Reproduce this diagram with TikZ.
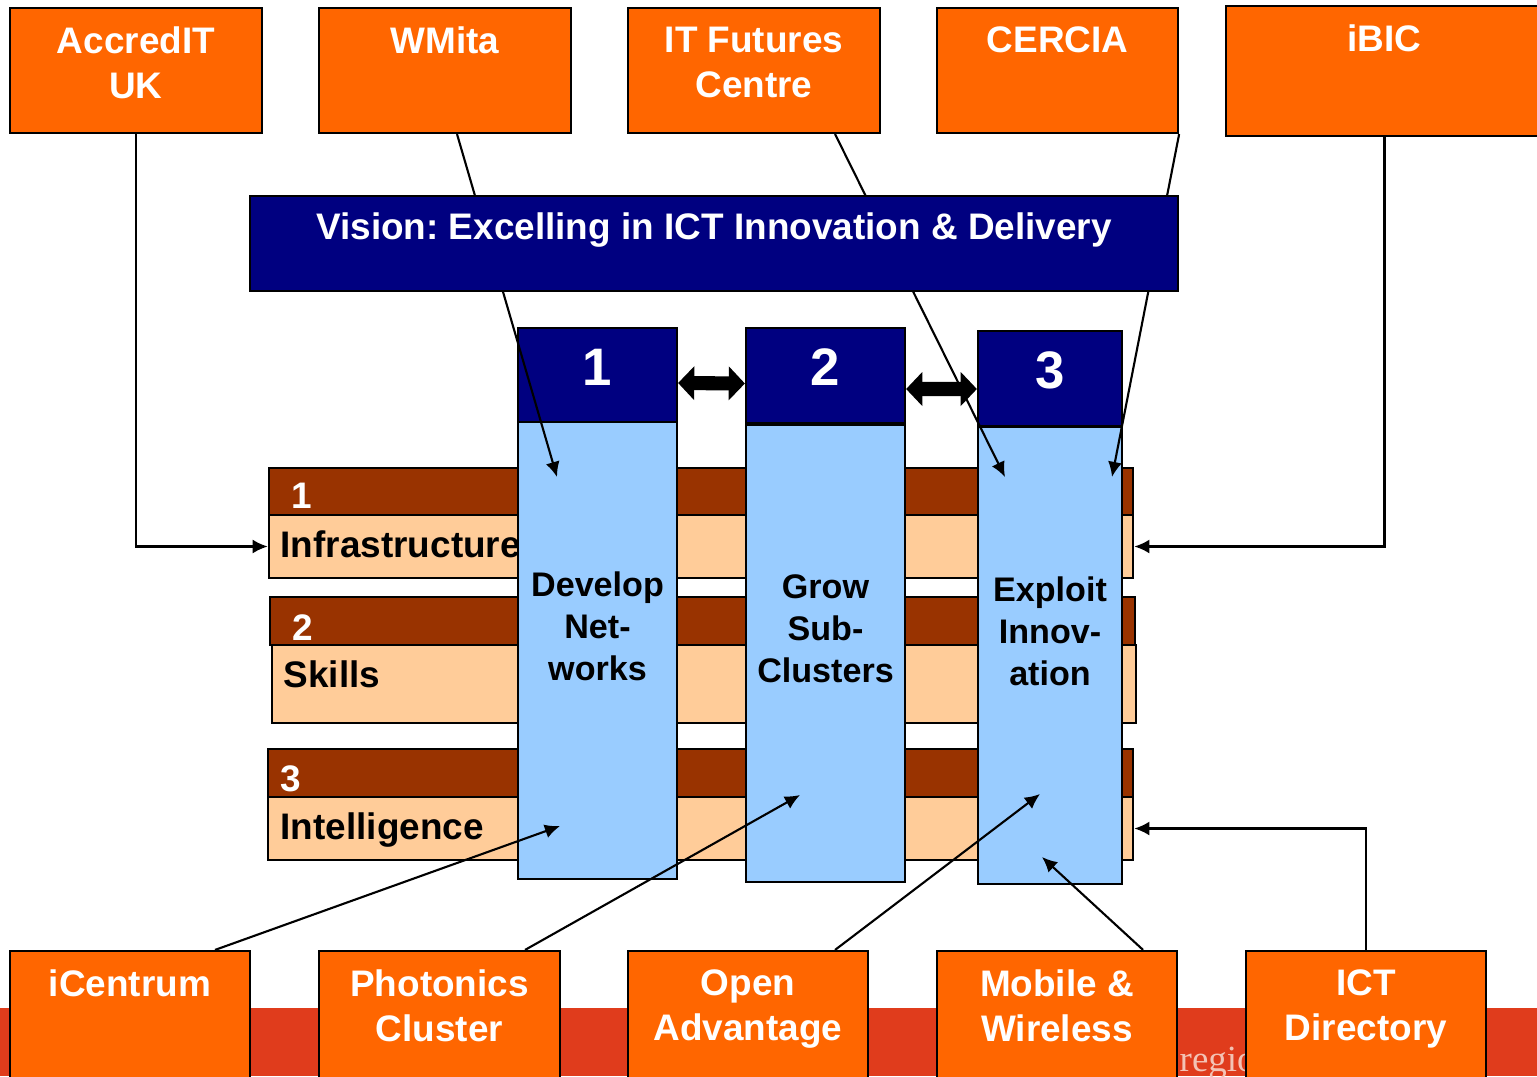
\documentclass[tikz,border=0pt]{standalone}
\usepackage{fontspec}
\setmainfont{Liberation Sans}
\newfontfamily\logofont{Liberation Serif}
\usetikzlibrary{arrows.meta}

\definecolor{orgorange}{HTML}{FF6600}
\definecolor{visnavy}{HTML}{000080}
\definecolor{colblue}{HTML}{99CCFF}
\definecolor{rowbrown}{HTML}{993300}
\definecolor{rowpeach}{HTML}{FFCC99}
\definecolor{bandred}{HTML}{E03C1C}
\definecolor{logopink}{HTML}{F3C3B5}

\begin{document}
\frenchspacing
\begin{tikzpicture}[x=0.01cm,y=-0.01cm]
        \tikzstyle{every node}=[font=\bfseries\fontsize{10.5}{12.9}\selectfont]
        \tikzstyle{box}=[draw=black,line width=0.6pt,inner sep=0pt]
        \tikzstyle{orgbox}=[box,fill=orgorange,minimum height=1.25cm]
        \tikzstyle{orgtxt}=[anchor=north,yshift=-0.19cm,inner sep=0pt,align=center,text=white]
        \tikzstyle{hdbox}=[box,fill=visnavy,text=white,minimum height=0.94cm,text depth=0.16cm,font=\bfseries\fontsize{15}{18}\selectfont]
        \tikzstyle{colbox}=[box,fill=colblue,minimum height=4.57cm]
        \tikzstyle{coltxt}=[anchor=north,yshift=-1.5cm,inner sep=0pt,align=center,font=\bfseries\fontsize{9.7}{11.9}\selectfont]
        \tikzstyle{rownum}=[anchor=base west,inner sep=0pt,text=white]
        \tikzstyle{rowtxt}=[anchor=base west,inner sep=0pt]
        \tikzstyle{conn}=[-{Latex[length=4.3pt,width=4pt]},line width=0.6pt]
        \tikzstyle{dblarrow}=[{Triangle[length=4.6pt,width=9.4pt]}-{Triangle[length=4.6pt,width=9.4pt]},line width=4pt]

        \useasboundingbox (0,0) rectangle (1537,1076);

        %%% Band at the foot
        \fill[bandred] (0,1008) rectangle (1537,1076);
        \node[anchor=base west,inner sep=0pt,text=logopink,font=\logofont\fontsize{10.5}{12.6}\selectfont] (logo) at (1179,1071) {regio};

        %%% Rows
        \node[box,fill=rowbrown,minimum width=8.64cm,minimum height=0.47cm] (bar1) at (701,491.5) {};
        \node[box,fill=rowpeach,minimum width=8.64cm,minimum height=0.63cm] (fld1) at (701,546.5) {};
        \node[rownum] (num1) at (291,508) {1};
        \node[rowtxt] (lbl1) at (280,557) {Infrastructure};

        \node[box,fill=rowbrown,minimum width=8.65cm,minimum height=0.48cm] (bar2) at (702.5,621) {};
        \node[box,fill=rowpeach,minimum width=8.64cm,minimum height=0.78cm] (fld2) at (704,684) {};
        \node[rownum] (num2) at (292,640) {2};
        \node[rowtxt] (lbl2) at (283,687) {Skills};

        \node[box,fill=rowbrown,minimum width=8.65cm,minimum height=0.48cm] (bar3) at (700.5,773) {};
        \node[box,fill=rowpeach,minimum width=8.65cm,minimum height=0.63cm] (fld3) at (700.5,828.5) {};
        \node[rownum] (num3) at (280,791) {3};
        \node[rowtxt] (lbl3) at (280,839) {Intelligence};

        %%% Columns
        \node[colbox,minimum width=1.59cm,label={[coltxt]north:Develop\\Net-\\works}] (col1) at (597.5,650.5) {};
        \node[hdbox,minimum width=1.59cm] (hd1) at (597.5,375) {1};
        \node[colbox,minimum width=1.59cm,label={[coltxt]north:Grow\\Sub-\\Clusters}] (col2) at (825.5,653.5) {};
        \node[hdbox,minimum width=1.59cm,minimum height=0.95cm] (hd2) at (825.5,375.5) {2};
        \node[colbox,minimum width=1.44cm,label={[coltxt]north:Exploit\\Innov-\\ation}] (col3) at (1050,655.5) {};
        \node[hdbox,minimum width=1.44cm,minimum height=0.95cm] (hd3) at (1050,378.5) {3};

        \draw[dblarrow] ([yshift=-0.08cm]hd1.east) -- ([yshift=-0.08cm]hd2.west);
        \draw[dblarrow] ([yshift=-0.135cm]hd2.east) -- ([yshift=-0.105cm]hd3.west);

        %%% Arrow targets
        \coordinate (tdev) at (557,477);
        \coordinate (texpa) at (1005,477);
        \coordinate (texpb) at (1112,477);
        \coordinate (tdevlow) at (560,826);
        \coordinate (tgrow) at (800,795);
        \coordinate (texplow) at (1040,794);
        \coordinate (texpbot) at (1042,857);

        %%% Partners
        \node[orgbox,minimum width=2.52cm,label={[orgtxt]north:AccredIT\\UK}] (accredit) at (136,70.5) {};
        \node[orgbox,minimum width=2.52cm,label={[orgtxt]north:WMita}] (wmita) at (445,70.5) {};
        \node[orgbox,minimum width=2.52cm,label={[orgtxt]north:IT Futures\\Centre}] (itfc) at (754,70.5) {};
        \node[orgbox,minimum width=2.41cm,label={[orgtxt]north:CERCIA}] (cercia) at (1057.5,70.5) {};
        \node[orgbox,minimum width=3.17cm,minimum height=1.30cm,label={[orgtxt]north:iBIC}] (ibic) at (1384.5,71) {};

        \node[orgbox,minimum width=2.40cm,minimum height=1.50cm,label={[orgtxt]north:iCentrum}] (icentrum) at (130,1026) {};
        \node[orgbox,minimum width=2.41cm,minimum height=1.50cm,label={[orgtxt]north:Photonics\\Cluster}] (photonics) at (439.5,1026) {};
        \node[orgbox,minimum width=2.40cm,minimum height=1.50cm,label={[orgtxt]north:Open\\Advantage}] (openadv) at (748,1026) {};
        \node[orgbox,minimum width=2.40cm,minimum height=1.50cm,label={[orgtxt]north:Mobile \&\\Wireless}] (mobile) at (1057,1026) {};
        \node[orgbox,minimum width=2.40cm,minimum height=1.50cm,label={[orgtxt]north:ICT\\Directory}] (ictdir) at (1366,1026) {};

        %%% Links
        \draw[conn] (accredit.south) |- (fld1.west);
        \draw[conn] (ibic.south) |- (fld1.east);
        \draw[conn] ([xshift=0.12cm]wmita.south) -- (tdev);
        \draw[conn] ([xshift=0.81cm]itfc.south) -- (texpa);
        \draw[conn] (cercia.south east) -- (texpb);
        \draw[conn] ([xshift=0.85cm]icentrum.north) -- (tdevlow);
        \draw[conn] ([xshift=0.855cm]photonics.north) -- (tgrow);
        \draw[conn] ([xshift=0.87cm]openadv.north) -- (texplow);
        \draw[conn] ([xshift=0.86cm]mobile.north) -- (texpbot);
        \draw[conn] (ictdir.north) |- (fld3.east);

        %%% Vision
        \node[box,fill=visnavy,minimum width=9.28cm,minimum height=0.95cm,label={[orgtxt,yshift=0.02cm]north:{Vision: Excelling in ICT Innovation \& Delivery}}] (vision) at (714,243.5) {};
\end{tikzpicture}
\end{document}
